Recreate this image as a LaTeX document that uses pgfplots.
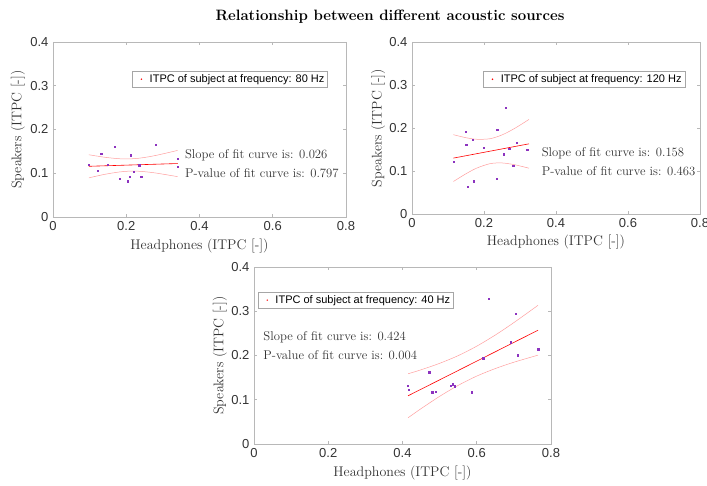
\documentclass[border=0pt]{standalone}
\usepackage{fontspec}
\usepackage{pgfplots}
\pgfplotsset{compat=1.18}
\newfontfamily\arial{Liberation Sans}
\definecolor{pts}{rgb}{0.55,0.2,0.75}
\definecolor{axgray}{rgb}{0.72,0.72,0.72}
\definecolor{txtgray}{rgb}{0.2,0.2,0.2}
\tikzset{ann/.style={font=\fontsize{12.7}{13}\selectfont, text=txtgray, anchor=west, inner sep=0pt}}
\pgfplotsset{
  sub/.style={
    scale only axis,
    anchor=south west,
    xmin=0, xmax=0.8, ymin=0, ymax=0.4,
    xtick={0,0.2,0.4,0.6,0.8},
    ytick={0,0.1,0.2,0.3,0.4},
    xticklabels={0,0.2,0.4,0.6,0.8},
    yticklabels={0,0.1,0.2,0.3,0.4},
    tick align=inside,
    major tick length=3pt,
    axis line style={axgray, line width=0.6pt},
    every tick/.style={axgray, line width=0.6pt},
    tick label style={font=\arial\fontsize{13}{13}\selectfont, text=txtgray},
    xticklabel style={yshift=-1pt},
    yticklabel style={xshift=-1pt},
    label style={font=\fontsize{14}{14}\selectfont, text=txtgray},
    xlabel={Headphones (ITPC [-])},
    ylabel={Speakers (ITPC [-])},
    xlabel style={at={(axis description cs:0.5,-0.165)}, anchor=center},
    legend style={draw=gray!70, font=\arial\fontsize{11}{11}\selectfont, inner sep=1.2pt, row sep=0pt,
                  cells={anchor=west}, anchor=north west},
    legend image code/.code={\path[draw=none,fill=none] (0,-1pt) rectangle (0.5cm,1pt);\fill[red,draw=none] (0.28cm,0cm) circle (0.8pt);},
  },
  fitl/.style={red, line width=0.6pt, no marks},
  band/.style={red!38, line width=0.5pt, no marks, smooth},
  dots/.style={only marks, mark=square*, mark size=0.7pt, pts},
}
\begin{document}
\begin{tikzpicture}
\path[use as bounding box] (0pt,0pt) rectangle (707pt,485pt);
\node[font=\bfseries\fontsize{15}{16}\selectfont] at (390pt,468pt) {Relationship between different acoustic sources};

% top-left: 80 Hz
\begin{axis}[sub, at={(53pt,268pt)}, width=293pt, height=175pt,
  ylabel style={at={(axis description cs:-0.12,0.5)}, anchor=center},
  legend style={at={(axis description cs:0.27,0.834)}}]
\addlegendimage{only marks}
\addlegendentry{ITPC of subject at frequency: 80 Hz}
\addplot[band] table {
0.098 0.1423
0.14 0.1367
0.18 0.1332
0.209 0.1328
0.24 0.1349
0.28 0.1406
0.34 0.1521
};
\addplot[band] table {
0.098 0.0895
0.14 0.0973
0.18 0.1028
0.209 0.1048
0.24 0.1043
0.28 0.1006
0.34 0.0923
};
\addplot[fitl] table {
0.098 0.1159
0.34 0.1222
};
\addplot[dots] table {
0.098 0.120
0.122 0.106
0.132 0.145
0.149 0.120
0.168 0.160
0.182 0.087
0.204 0.082
0.209 0.092
0.212 0.141
0.221 0.103
0.235 0.118
0.241 0.092
0.281 0.165
0.340 0.133
0.340 0.115
};
\node[ann] at (axis cs:0.36,0.142) {Slope of fit curve is: 0.026};
\node[ann] at (axis cs:0.36,0.100) {P-value of fit curve is: 0.797};
\end{axis}

% top-right: 120 Hz
\begin{axis}[sub, at={(412pt,271pt)}, width=288pt, height=172pt,
  ylabel style={at={(axis description cs:-0.118,0.5)}, anchor=center},
  legend style={at={(axis description cs:0.247,0.831)}}]
\addlegendimage{only marks}
\addlegendentry{ITPC of subject at frequency: 120 Hz}
\addplot[band] table {
0.115 0.1844
0.15 0.1774
0.18 0.1738
0.217 0.1751
0.25 0.1839
0.285 0.1990
0.325 0.2199
};
\addplot[band] table {
0.115 0.0756
0.15 0.0936
0.18 0.1068
0.217 0.1171
0.25 0.1187
0.285 0.1146
0.325 0.1065
};
\addplot[fitl] table {
0.115 0.1300
0.325 0.1632
};
\addplot[dots] table {
0.115 0.122
0.149 0.192
0.151 0.161
0.155 0.063
0.168 0.173
0.172 0.076
0.199 0.154
0.237 0.196
0.235 0.082
0.255 0.139
0.260 0.247
0.270 0.152
0.281 0.113
0.290 0.166
0.320 0.150
};
\node[ann] at (axis cs:0.36,0.142) {Slope of fit curve is: 0.158};
\node[ann] at (axis cs:0.36,0.100) {P-value of fit curve is: 0.463};
\end{axis}

% bottom: 40 Hz
\begin{axis}[sub, at={(254pt,41pt)}, width=297pt, height=177pt,
  ylabel style={at={(axis description cs:-0.115,0.5)}, anchor=center},
  legend style={at={(axis description cs:0.013,0.859)}}]
\addlegendimage{only marks}
\addlegendentry{ITPC of subject at frequency: 40 Hz}
\addplot[band] table {
0.415 0.1587
0.45 0.1677
0.5 0.1823
0.55 0.1997
0.6 0.2211
0.65 0.2463
0.7 0.2744
0.765 0.3134
};
\addplot[band] table {
0.415 0.0593
0.45 0.0799
0.5 0.1077
0.55 0.1325
0.6 0.1535
0.65 0.1705
0.7 0.1848
0.765 0.2008
};
\addplot[fitl] table {
0.415 0.1090
0.765 0.2571
};
\addplot[dots] table {
0.414 0.132
0.416 0.123
0.472 0.162
0.480 0.117
0.490 0.118
0.530 0.132
0.535 0.135
0.541 0.131
0.586 0.117
0.617 0.194
0.632 0.328
0.692 0.230
0.705 0.294
0.710 0.201
0.766 0.214
};
\node[ann] at (axis cs:0.025,0.241) {Slope of fit curve is: 0.424};
\node[ann] at (axis cs:0.025,0.201) {P-value of fit curve is: 0.004};
\end{axis}
\end{tikzpicture}
\end{document}
